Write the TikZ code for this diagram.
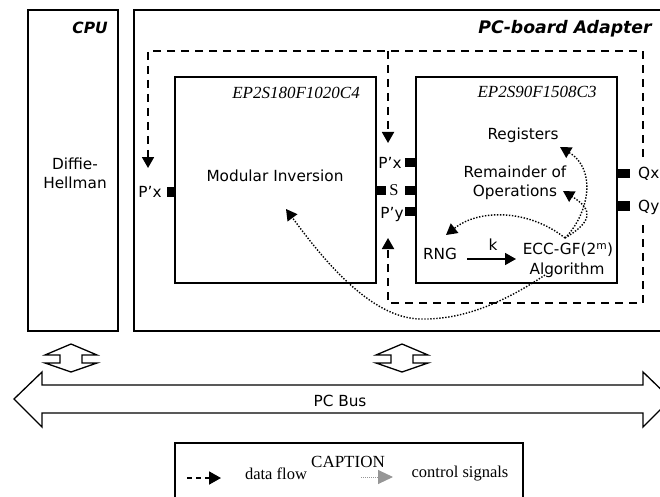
\documentclass[tikz,border=0pt]{standalone}
\usepackage{fontspec}
\setmainfont{DejaVu Sans}
\newfontfamily\srf{Liberation Serif}
\usetikzlibrary{arrows.meta}
\definecolor{ctrlgray}{RGB}{150,150,150}
\begin{document}
\begin{tikzpicture}[x=1pt,y=-1pt,
  box/.style={draw,line width=1.4pt},
  pinbox/.style={fill=black,inner sep=0pt,minimum width=9pt,minimum height=9.5pt},
  lab/.style={font=\fontsize{15.3}{18}\selectfont,inner sep=0pt},
  chipname/.style={font=\srf\itshape\fontsize{17}{20}\selectfont,inner sep=0pt},
  dflow/.style={line width=1.8pt,dash pattern=on 8pt off 6pt,-{Triangle[length=11pt,width=12pt]}},
  ctrl/.style={line width=1.4pt,dash pattern=on 1.4pt off 1.6pt,-{Triangle[length=11pt,width=12pt]}},
  busarrow/.style={draw,line width=1.3pt,line join=miter},
]
\clip (0,0) rectangle (660,497);
% frames
\draw[box] (28,10) rectangle (118,331);
\draw[box] (134,10) rectangle (690,331);
\node[lab,font=\bfseries\itshape\fontsize{15.5}{18}\selectfont,anchor=east] (cpu) at (108,28) {CPU};
\node[lab,font=\bfseries\itshape\fontsize{17.3}{20}\selectfont] (adapter) at (565,29) {PC-board Adapter};
\node[lab,align=center] (dh) at (75,173) {Diffie-\\[1pt]Hellman};
% chips
\node[box,minimum width=201pt,minimum height=206pt,inner sep=0pt] (chipA) at (275.5,180) {};
\node[box,minimum width=201pt,minimum height=206pt,inner sep=0pt] (chipB) at (516.5,180) {};
\node[chipname] (nameA) at (296,93) {EP2S180F1020C4};
\node[chipname] (nameB) at (537,92) {EP2S90F1508C3};
\node[lab] (modinv) at (275,176) {Modular Inversion};
\node[lab] (regs) at (523,135) {Registers};
\node[lab,align=center] (rem) at (515,183) {Remainder of\\[1pt]Operations};
\node[lab] (rng) at (440,254) {RNG};
\node[lab] (ecc) at (568,250) {ECC-GF(2\textsuperscript{m})};
\node[lab] (alg) at (567,270) {Algorithm};
\node[lab] (klab) at (493,245) {k};
\coordinate (kS) at (467,259);
\coordinate (kE) at (516,259);
\draw[line width=1.6pt,-{Triangle[length=11pt,width=12pt]}] (kS) -- (kE);
% pins
\node[pinbox] (pinA1) at (171,192) {};
\node[pinbox] (pinA2) at (381,190.5) {};
\node[pinbox,minimum width=11pt] (pinB1) at (410.5,162.5) {};
\node[pinbox,minimum width=11pt] (pinB2) at (410.5,190.5) {};
\node[pinbox,minimum width=11pt] (pinB3) at (410.5,211.5) {};
\node[pinbox,minimum width=13pt] (pinQx) at (623.5,173.5) {};
\node[pinbox,minimum width=13pt] (pinQy) at (623.5,206) {};
\node[lab] (lPxA) at (150,192) {P’x};
\node[lab] (lPxB) at (390,163) {P’x};
\node[lab,font=\srf\fontsize{16.5}{18}\selectfont] (lS) at (394,190.5) {S};
\node[lab] (lPyB) at (392,215) {P’y};
\node[lab,anchor=west] (lQx) at (638,174) {Qx};
\node[lab,anchor=west] (lQy) at (638,207) {Qy};
% data flow
\coordinate (q1) at (643,157);
\coordinate (c1) at (643,51);
\coordinate (c2) at (148,51);
\coordinate (t1) at (148,168);
\coordinate (b1) at (388,51);
\coordinate (t2) at (388,143);
\coordinate (q2) at (643,225);
\coordinate (c3) at (643,303);
\coordinate (c4) at (388,303);
\coordinate (t3) at (388,238);
\draw[dflow] (q1) -- (c1) -- (c2) -- (t1);
\draw[dflow] (b1) -- (t2);
\draw[dflow] (q2) -- (c3) -- (c4) -- (t3);
% control signals
\coordinate (J) at (565,238);
\coordinate (tReg) at (560,147);
\coordinate (tOp) at (563,191);
\coordinate (tRng) at (446,235);
\coordinate (sBig) at (545,275);
\coordinate (mBig) at (420,319);
\coordinate (tMod) at (286,209);
\draw[ctrl] (J) .. controls (588,215) and (598,170) .. (tReg);
\draw[ctrl] (J) .. controls (592,222) and (594,210) .. (tOp);
\draw[ctrl] (J) .. controls (530,210) and (480,208) .. (tRng);
\draw[ctrl] (sBig) .. controls (500,305) and (460,320) .. (mBig) .. controls (370,318) and (322,258) .. (tMod);
% bus connectors
\draw[busarrow] (71,344) -- (45,355) -- (60,355) -- (60,363) -- (45,363) -- (71,372) -- (97,363) -- (82,363) -- (82,355) -- (97,355) -- cycle;
\draw[busarrow] (402,344) -- (376,355) -- (391,355) -- (391,363) -- (376,363) -- (402,372) -- (428,363) -- (413,363) -- (413,355) -- (428,355) -- cycle;
% PC bus
\draw[busarrow] (14,399) -- (42,372) -- (42,385) -- (643,385) -- (643,372) -- (671,399) -- (643,427) -- (643,413) -- (42,413) -- (42,427) -- cycle;
\node[lab] (bus) at (340,401) {PC Bus};
% caption
\draw[box,line width=1.3pt] (175,443) rectangle (523,520);
\node[lab,font=\srf\fontsize{17}{20}\selectfont] (cap) at (348,462) {CAPTION};
\node[lab,font=\srf\fontsize{16.5}{20}\selectfont] (df) at (276,474) {data flow};
\node[lab,font=\srf\fontsize{16.5}{20}\selectfont] (cs) at (460,474) {control signals};
\coordinate (lg1) at (187,478);
\coordinate (lg2) at (221,478);
\coordinate (lg3) at (361,477);
\coordinate (lg4) at (393,477);
\draw[line width=1.8pt,dash pattern=on 5pt off 4pt,-{Triangle[length=12pt,width=13pt]}] (lg1) -- (lg2);
\draw[ctrlgray,line width=1pt,dash pattern=on 1pt off 1pt,-{Triangle[length=15pt,width=14pt]}] (lg3) -- (lg4);
\end{tikzpicture}
\end{document}
